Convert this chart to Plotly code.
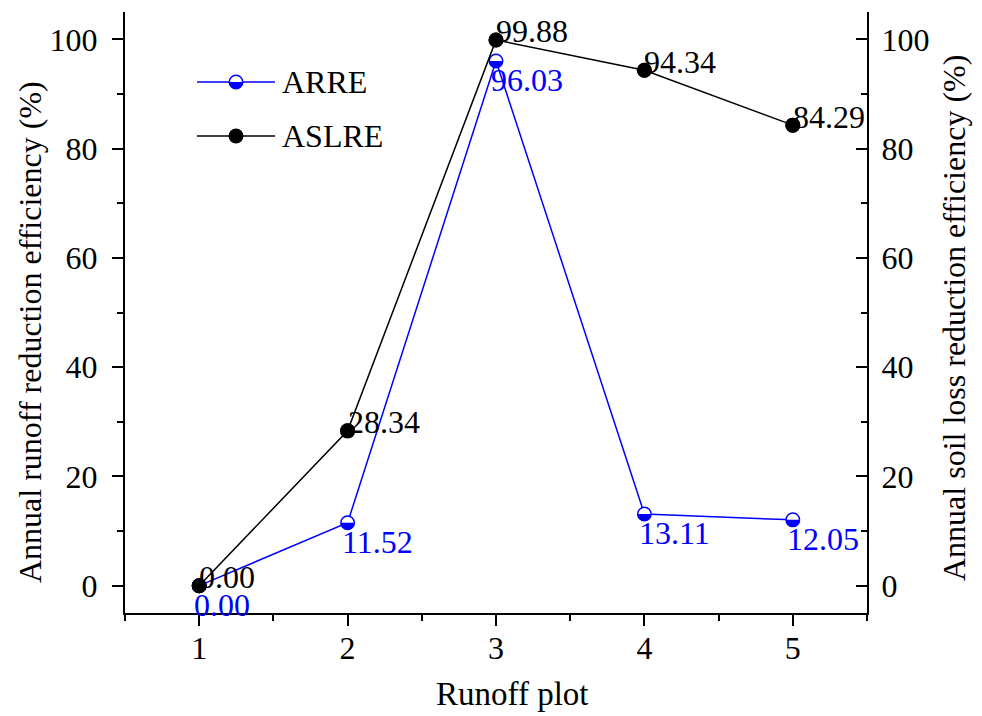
import plotly.graph_objects as go

# ---- data ----
plots = [1, 2, 3, 4, 5]
arre = [0.00, 11.52, 96.03, 13.11, 12.05]
aslre = [0.00, 28.34, 99.88, 94.34, 84.29]
x_ticks = [1, 2, 3, 4, 5]
y_ticks = [0, 20, 40, 60, 80, 100]
series_names = ["ARRE", "ASLRE"]

BLUE = "#0000FF"
BLACK = "#000000"
FONT = "Times New Roman, Liberation Serif, serif"
FS = 32

# plot area in pixels (for paper conversions of layout items)
L, R, T, B = 125, 115, 12, 103
W, H = 982, 716
PW, PH = W - L - R, H - T - B


def px(xp):
    return (xp - L) / PW


def py(yp):
    return (H - B - yp) / PH


fig = go.Figure()
fig.add_trace(go.Scatter(
    x=plots, y=arre, mode="lines+markers", name=series_names[0],
    line=dict(color=BLUE, width=1.5),
    marker=dict(symbol="circle", size=13.5, color="white",
                line=dict(color=BLUE, width=1.5)),
    yaxis="y", showlegend=False))
fig.add_trace(go.Scatter(
    x=plots, y=aslre, mode="lines+markers", name=series_names[1],
    line=dict(color=BLACK, width=1.5),
    marker=dict(symbol="circle", size=15, color=BLACK, line=dict(width=0)),
    yaxis="y2", showlegend=False))

r = 6.75
k = 0.5523 * r
half_path = (f"M {-r} 0 C {-r} {-k} {-k} {-r} 0 {-r} "
             f"C {k} {-r} {r} {-k} {r} 0 Z")

shapes = []
# lower-half fill of ARRE markers
for xv, yv in zip(plots, arre):
    shapes.append(dict(type="path", xref="x", yref="y", xsizemode="pixel",
                       ysizemode="pixel", xanchor=xv, yanchor=yv,
                       path=half_path, fillcolor=BLUE, line=dict(width=0),
                       layer="above"))
# ASLRE markers drawn on top
rb = 7.5
for xv, yv in zip(plots, aslre):
    shapes.append(dict(type="circle", xref="x", yref="y2", xsizemode="pixel",
                       ysizemode="pixel", xanchor=xv, yanchor=yv,
                       x0=-rb, x1=rb, y0=-rb, y1=rb, fillcolor=BLACK,
                       line=dict(width=0), layer="above"))

# manual legend
leg_rows = [(82, BLUE, True), (136, BLACK, False)]
annotations = []
for (yy, col, half), name in zip(leg_rows, series_names):
    shapes.append(dict(type="line", xref="paper", yref="paper",
                       x0=px(197), x1=px(275), y0=py(yy), y1=py(yy),
                       line=dict(color=col, width=1.5), layer="above"))
    if half:
        shapes.append(dict(type="circle", xref="paper", yref="paper",
                           xsizemode="pixel", ysizemode="pixel",
                           xanchor=px(236), yanchor=py(yy),
                           x0=-r, x1=r, y0=-r, y1=r, fillcolor="white",
                           line=dict(color=BLUE, width=1.5), layer="above"))
        shapes.append(dict(type="path", xref="paper", yref="paper",
                           xsizemode="pixel", ysizemode="pixel",
                           xanchor=px(236), yanchor=py(yy), path=half_path,
                           fillcolor=BLUE, line=dict(width=0), layer="above"))
    else:
        shapes.append(dict(type="circle", xref="paper", yref="paper",
                           xsizemode="pixel", ysizemode="pixel",
                           xanchor=px(236), yanchor=py(yy),
                           x0=-rb, x1=rb, y0=-rb, y1=rb, fillcolor=BLACK,
                           line=dict(width=0), layer="above"))
    annotations.append(dict(xref="paper", yref="paper", x=px(280), y=py(yy),
                            xanchor="left", yanchor="middle", text=name,
                            showarrow=False,
                            font=dict(family=FONT, size=FS, color=BLACK)))

# data labels
for xv, yv in zip(plots, aslre):
    annotations.append(dict(x=xv, y=yv, xref="x", yref="y2", text=f"{yv:.2f}",
                            showarrow=False, xanchor="left", yanchor="middle",
                            xshift=-2, yshift=8.5,
                            font=dict(family=FONT, size=FS, color=BLACK)))
for xv, yv in zip(plots, arre):
    annotations.append(dict(x=xv, y=yv, xref="x", yref="y", text=f"{yv:.2f}",
                            showarrow=False, xanchor="left", yanchor="middle",
                            xshift=-7.5, yshift=-19,
                            font=dict(family=FONT, size=FS, color=BLUE)))

# axis titles
annotations.append(dict(xref="paper", yref="paper", x=px(30), y=py(332),
                        xanchor="center", yanchor="middle", textangle=-90,
                        text="Annual runoff reduction efficiency (%)",
                        showarrow=False, font=dict(family=FONT, size=FS, color=BLACK)))
annotations.append(dict(xref="paper", yref="paper", x=px(954), y=py(318),
                        xanchor="center", yanchor="middle", textangle=-90,
                        text="Annual soil loss reduction efficiency (%)",
                        showarrow=False, font=dict(family=FONT, size=FS, color=BLACK)))
annotations.append(dict(xref="paper", yref="paper", x=px(511.5), y=py(694),
                        xanchor="center", yanchor="middle",
                        text="Runoff plot",
                        showarrow=False, font=dict(family=FONT, size=33, color=BLACK)))

axis_common = dict(showgrid=False, zeroline=False, showline=True,
                   linecolor=BLACK, linewidth=2, tickcolor=BLACK, tickwidth=2,
                   ticklen=11, tickfont=dict(family=FONT, size=FS, color=BLACK))

fig.update_layout(
    width=W, height=H,
    margin=dict(l=L, r=R, t=T, b=B, autoexpand=False),
    paper_bgcolor="white", plot_bgcolor="white",
    font=dict(family=FONT),
    xaxis=dict(range=[0.5, 5.5], tickvals=x_ticks, ticks="outside",
               minor=dict(ticks="outside", dtick=0.5, tick0=0.5, ticklen=6,
                          tickwidth=2, tickcolor=BLACK),
               ticklabelstandoff=-5, **axis_common),
    yaxis=dict(range=[-5, 105], tickvals=y_ticks, ticks="outside",
               minor=dict(ticks="outside", dtick=10, tick0=0, ticklen=6,
                          tickwidth=2, tickcolor=BLACK),
               ticklabelstandoff=8, **axis_common),
    yaxis2=dict(range=[-5, 105], tickvals=y_ticks, ticks="inside",
                overlaying="y", side="right",
                minor=dict(ticks="inside", dtick=10, tick0=0, ticklen=6,
                           tickwidth=2, tickcolor=BLACK),
                ticklabelstandoff=6, **axis_common),
    shapes=shapes,
    annotations=annotations,
    showlegend=False,
)

fig.write_html("out.html")
